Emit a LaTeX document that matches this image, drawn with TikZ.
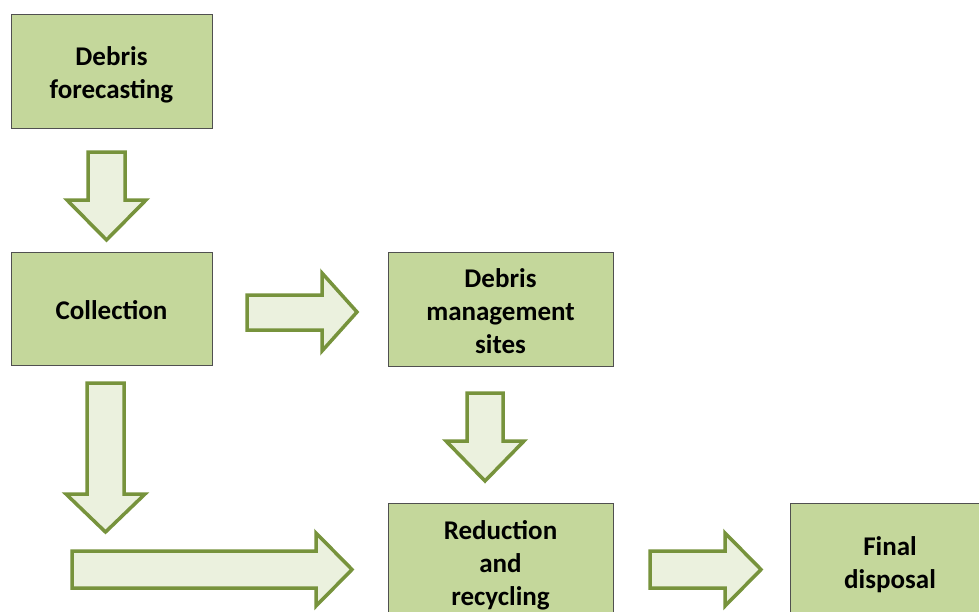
\documentclass[tikz,border=0pt]{standalone}
\usepackage{fontspec}
\setmainfont{Carlito}
\definecolor{boxfill}{HTML}{C4D79B}
\definecolor{boxline}{HTML}{505050}
\definecolor{arrfill}{HTML}{EBF1DE}
\definecolor{arrline}{HTML}{77933C}
\begin{document}
\begin{tikzpicture}[x=1pt,y=-1pt,
  stage/.style={draw=boxline, line width=1pt, fill=boxfill, inner sep=0pt},
  stagetext/.style={align=center, inner sep=0pt,
    font=\bfseries\fontsize{27}{33}\selectfont},
  blockarrow/.style={draw=arrline, fill=arrfill, line width=3.5pt, line join=miter}]
\clip (0,0) rectangle (979,611);
\fill[white] (0,0) rectangle (979,611);

% process stages
\node[stage, minimum width=201pt, minimum height=114pt] (fore) at (111.5,71) {};
\node[stagetext, yshift=-4pt] at (fore.center) {Debris\\forecasting};
\node[stage, minimum width=201pt, minimum height=113pt] (coll) at (111.5,308.5) {};
\node[stagetext, yshift=-2pt] at (coll.center) {Collection};
\node[stage, minimum width=225pt, minimum height=114pt] (dms) at (500.5,309) {};
\node[stagetext, yshift=-2pt] at (dms.center) {Debris\\management\\sites};
\node[stage, minimum width=225pt, minimum height=114pt] (red) at (500.5,560) {};
\node[stagetext, yshift=-5pt] at (red.center) {Reduction\\and\\recycling};
\node[stage, minimum width=200pt, minimum height=114pt] (fin) at (890,560) {};
\node[stagetext, yshift=-4.5pt] at (fin.center) {Final\\disposal};

% block arrows between the stages
\draw[blockarrow] (88,152) -- (125,152) -- (125,200) -- (146,200) -- (106.5,240)
  -- (67,200) -- (88,200) -- cycle;
\draw[blockarrow] (247,295) -- (322,295) -- (322,273) -- (357,312) -- (322,351)
  -- (322,330) -- (247,330) -- cycle;
\draw[blockarrow] (467,393) -- (503,393) -- (503,441) -- (524,441) -- (485,481)
  -- (446,441) -- (467,441) -- cycle;
\draw[blockarrow] (87,383) -- (124,383) -- (124,494) -- (145,494) -- (105.5,532)
  -- (66,494) -- (87,494) -- cycle;
\draw[blockarrow] (72,551) -- (316,551) -- (316,533) -- (352,569.5) -- (316,606)
  -- (316,588) -- (72,588) -- cycle;
\draw[blockarrow] (650,551) -- (725,551) -- (725,533) -- (761,569.5) -- (725,606)
  -- (725,588) -- (650,588) -- cycle;
\end{tikzpicture}
\end{document}
